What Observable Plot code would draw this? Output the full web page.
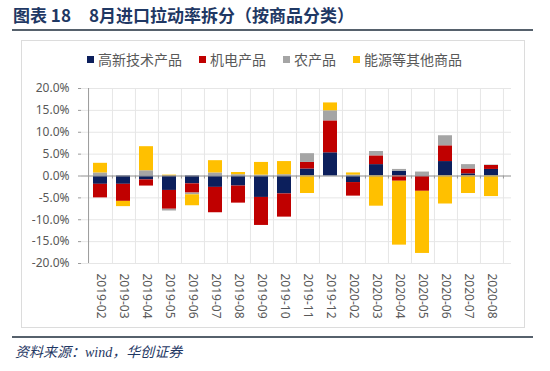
<!DOCTYPE html>
<html><head><meta charset="utf-8">
<script src="https://cdn.jsdelivr.net/npm/d3@7"></script>
<script src="https://cdn.jsdelivr.net/npm/@observablehq/plot@0.6"></script>
<style>
body{margin:0;background:#fff;}
#root{position:relative;width:550px;height:371px;overflow:hidden;font-family:"Noto Sans CJK SC",sans-serif;}
#title{position:absolute;left:13px;top:5px;font-size:17px;font-weight:bold;color:#1f3864;white-space:nowrap;line-height:20px;}
#title span{display:inline-block;}
.hr{position:absolute;left:12px;width:521px;height:2px;background:#56616c;}
#box{position:absolute;left:21px;top:40px;width:502px;height:286px;border:1px solid #dcdcdc;}
#legend{position:absolute;left:87px;top:51px;font-size:14px;line-height:16px;color:#595959;white-space:nowrap;display:flex;align-items:center;}
#legend .item{display:flex;align-items:center;margin-right:17px;}
#legend .sw{width:7px;height:7px;margin-right:4px;}
#chart{position:absolute;left:0;top:80px;}
#caption{position:absolute;left:15px;top:344px;font-size:14px;font-style:italic;color:#1f3864;white-space:nowrap;font-family:"Liberation Serif","Noto Sans CJK SC",serif;line-height:18px;}
</style></head><body>
<div id="root">
  <div id="title"><span>图表 18</span><span style="margin-left:18px">8月进口拉动率拆分（按商品分类）</span></div>
  <div class="hr" style="top:29px"></div>
  <div id="box"></div>
  <div id="legend"></div>
  <div id="chart"></div>
  <div class="hr" style="top:336px"></div>
  <div id="caption">资料来源：wind，华创证券</div>
</div>
<script>
const months = ["2019-02","2019-03","2019-04","2019-05","2019-06","2019-07","2019-08","2019-09","2019-10","2019-11","2019-12","2020-02","2020-03","2020-04","2020-05","2020-06","2020-07","2020-08"];
const seriesNames = ["高新技术产品","机电产品","农产品","能源等其他商品"];
const seriesColors = ["#0c1f5c","#c00000","#a5a5a5","#ffc000"];
const hiTech = [-1.9,-1.9,-0.9,-3.3,-1.8,-2.6,-2.3,-4.9,-4.1,1.6,5.3,-1.5,2.6,1.1,-0.1,3.3,0.5,1.5];
const mech   = [-3.1,-3.9,-1.4,-4.3,-2.1,-5.8,-3.9,-6.4,-5.3,1.5,7.3,-3.1,2.0,-1.2,-3.4,3.6,1.1,0.9];
const agri   = [0.7,0.0,1.2,-0.4,-0.4,0.7,0.3,0.2,0.3,2.0,2.3,0.2,1.0,0.4,0.9,2.3,1.0,0.1];
const energy = [2.2,-1.2,5.5,0.2,-2.5,2.8,0.5,2.9,3.0,-4.0,1.8,0.5,-6.9,-14.6,-14.2,-6.4,-4.0,-4.7];
const yTicks = [-20,-15,-10,-5,0,5,10,15,20];

const seriesValues = [hiTech, mech, agri, energy];
const rows = [];
seriesNames.forEach((name, s) => months.forEach((m, i) => rows.push({month: m, series: name, value: seriesValues[s][i]})));

// legend
const legend = document.getElementById("legend");
seriesNames.forEach((n, i) => {
  const it = document.createElement("div"); it.className = "item";
  const sw = document.createElement("div"); sw.className = "sw"; sw.style.background = seriesColors[i];
  const t = document.createElement("span"); t.textContent = n;
  it.appendChild(sw); it.appendChild(t); legend.appendChild(it);
});

const W = 550, ML = 81, MR = 39;
const step = (W - ML - MR) / months.length;

const chart = Plot.plot({
  width: W, height: 245,
  marginLeft: ML, marginRight: MR, marginTop: 8, marginBottom: 62,
  style: {fontFamily: "'Noto Sans', sans-serif", fontSize: "12px", color: "#595959", background: "transparent"},
  x: {type: "band", domain: months, paddingInner: 0.37, paddingOuter: 0.185, label: null, axis: null},
  y: {domain: [-20, 20], label: null, axis: null},
  color: {domain: seriesNames, range: seriesColors},
  marks: [
    Plot.ruleY(yTicks, {stroke: "#e6e6e6"}),
    Plot.ruleX(months, {x: d => d, dx: step / 2, stroke: "#e6e6e6"}),
    Plot.barY(rows, {x: "month", y: "value", fill: "series"}),
    Plot.ruleY([0], {stroke: "#9a9a9a"}),
    Plot.ruleX(months, {x: d => d, y1: () => 0, y2: () => 0, dx: step / 2, insetBottom: -3, stroke: "#9a9a9a"}),
    Plot.ruleX(months.slice(0, 1), {x: d => d, dx: -step / 2, stroke: "#9a9a9a"}),
    Plot.axisY(yTicks, {tickFormat: d => d.toFixed(1) + "%", tickSize: 3, tickPadding: 9, stroke: "#9a9a9a", fill: "#595959", label: null}),
    Plot.axisX({tickRotate: 90, tickSize: 0, tickPadding: 10, fill: "#595959", label: null})
  ]
});
document.getElementById("chart").appendChild(chart);
</script>
</body></html>
